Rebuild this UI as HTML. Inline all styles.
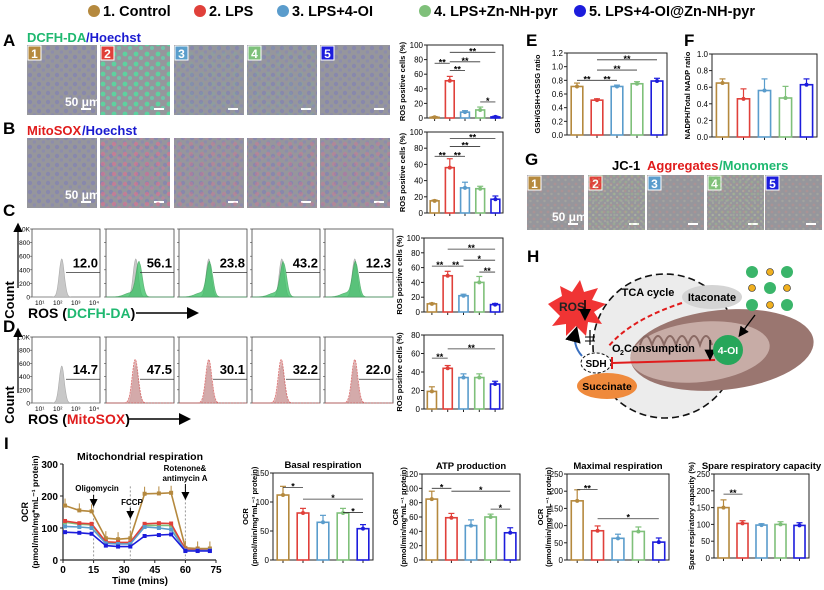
<!DOCTYPE html>
<html><head><meta charset="utf-8">
<style>
html,body{margin:0;padding:0;background:#fff;}
svg{display:block;font-family:"Liberation Sans",Arial,sans-serif;font-weight:bold;}
</style></head>
<body>
<svg id="fig" width="824" height="590" viewBox="0 0 824 590">
<defs>
<pattern id="cells" width="9" height="9" patternUnits="userSpaceOnUse">
<circle cx="3" cy="3" r="2.2" fill="#7878c0" opacity="0.45"/><circle cx="7.5" cy="7" r="1.8" fill="#8080c0" opacity="0.4"/>
</pattern>
<pattern id="green" width="11" height="10" patternUnits="userSpaceOnUse">
<circle cx="4" cy="4" r="2.4" fill="#50e0a0" opacity="0.8"/><circle cx="9" cy="8" r="2" fill="#60d8b0" opacity="0.7"/>
</pattern>
<pattern id="red" width="11" height="10" patternUnits="userSpaceOnUse">
<circle cx="4" cy="4" r="2.2" fill="#e07090" opacity="0.7"/><circle cx="9" cy="8" r="1.8" fill="#d87a9a" opacity="0.55"/>
</pattern>
<pattern id="jc" width="7" height="7" patternUnits="userSpaceOnUse">
<circle cx="2" cy="2" r="1.4" fill="#b89090" opacity="0.55"/><circle cx="5.5" cy="5" r="1.2" fill="#b0b0a0" opacity="0.5"/>
</pattern>
<pattern id="jcg" width="6" height="6" patternUnits="userSpaceOnUse">
<circle cx="2" cy="2" r="1.4" fill="#a0d080" opacity="0.6"/><circle cx="5" cy="5" r="1.1" fill="#c0e0a0" opacity="0.5"/>
</pattern>
<marker id="arr" markerWidth="8" markerHeight="8" refX="6" refY="4" orient="auto"><path d="M0,0 L8,4 L0,8 z" fill="#000"/></marker>
</defs>
<g id="root"></g>
</svg>
<script>
const NS='http://www.w3.org/2000/svg';
const root=document.getElementById('root');
function mk(tag,attrs,parent,name){
  const e=document.createElementNS(NS,tag);
  for(const k in attrs) e.setAttribute(k,attrs[k]);
  
  
  (parent||root).appendChild(e);return e;
}
function tx(str,x,y,attrs,parent,name){
  const a=Object.assign({x:x,y:y,'font-size':8},attrs||{});
  const e=mk('text',a,parent,name||'label');e.textContent=str;return e;
}
const colors=['#b5893e','#e0403a','#5a9ccc','#7fc07a','#1c1cdc'];

// ---------- Legend ----------
const legendLabels=['1. Control','2. LPS','3. LPS+4-OI','4. LPS+Zn-NH-pyr','5. LPS+4-OI@Zn-NH-pyr'];
const legendX=[94,200,283,425,580];
legendLabels.forEach((l,i)=>{
  mk('circle',{cx:legendX[i],cy:11,r:6,fill:colors[i]},root,'legend-marker');
  tx(l,legendX[i]+9,16,{'font-size':14.5},root,'legend-entry');
});

// ---------- Panel labels ----------
[['A',3,46],['B',3,134],['C',3,216],['D',3,332],['I',4,449],['E',526,46],['F',684,46],['G',525,165],['H',527,262]].forEach(p=>tx(p[0],p[1],p[2],{'font-size':17},root,'panel-label'));

// ---------- Microscopy images ----------
function micro(x,y,w,h,overlay,num,bar,scaleText,name){
  const g=mk('g',{},root,name);
  mk('rect',{x:x,y:y,width:w,height:h,fill:'#96969c'},g,'image-bg');
  mk('rect',{x:x,y:y,width:w,height:h,fill:overlay},g,'image-cells');
  if(num){
    mk('rect',{x:x+1,y:y+1,width:13,height:14,fill:colors[num-1],stroke:'#fff','stroke-width':1},g,'group-badge');
    tx(String(num),x+7.5,y+13,{'font-size':12,fill:'#fff','text-anchor':'middle'},g,'group-number');
  }
  if(bar) mk('line',{x1:x+w-16,y1:y+h-6,x2:x+w-6,y2:y+h-6,stroke:'#fff','stroke-width':2},g,'scale-bar');
  if(scaleText) tx('50 μm',x+w-32,y+h-9,{'font-size':12,fill:'#fff'},g,'scale-label');
}
const imgA=[27,100,174,247,320];
tx('DCFH-DA',27,42,{'font-size':13,fill:'#1fb870'},root,'stain-title');
tx('/Hoechst',86,42,{'font-size':13,fill:'#1a1ad0'},root,'stain-title');
imgA.forEach((x,i)=>micro(x,45,70,70,i==1?'url(#green)':'url(#cells)',i+1,true,i==0,'image-a'));
imgA.forEach((x,i)=>{if(i==2||i==3)mk('rect',{x:x,y:45,width:70,height:70,fill:'url(#green)',opacity:0.12},root,'green-overlay');});
tx('MitoSOX',27,135,{'font-size':13,fill:'#e01c1c'},root,'stain-title');
tx('/Hoechst',82,135,{'font-size':13,fill:'#1a1ad0'},root,'stain-title');
imgA.forEach((x,i)=>{micro(x,138,70,70,'url(#cells)',0,true,i==0,'image-b'); if(i>0) mk('rect',{x:x,y:138,width:70,height:70,fill:'url(#red)',opacity:i==1?0.85:0.5},root,'red-overlay');});
const imgG=[527,588,647,707,765];
tx('JC-1 ',612,170,{'font-size':13},root,'jc1-title');
tx('Aggregates',647,170,{'font-size':13,fill:'#e01c1c'},root,'jc1-title');
tx('/Monomers',719,170,{'font-size':13,fill:'#1fb870'},root,'jc1-title');
imgG.forEach((x,i)=>{micro(x,175,57,55,'url(#jc)',i+1,true,i==0,'image-g'); if(i==1||i==3) mk('rect',{x:x,y:175,width:57,height:55,fill:'url(#jcg)',opacity:0.5},root,'green-overlay');});

// ---------- Bar charts ----------
function barChart(c){
  const g=mk('g',{},root,c.name);
  const sy=v=>c.yB-(v/c.max)*(c.yB-c.yT);
  const bw=(c.x1-c.x0)/5;
  mk('rect',{x:c.x0,y:c.yT,width:c.x1-c.x0,height:c.yB-c.yT,fill:'none',stroke:'#222','stroke-width':1},g,'plot-frame');
  for(let v=0;v<=c.max+1e-9;v+=c.step){
    mk('line',{x1:c.x0-3,y1:sy(v),x2:c.x0,y2:sy(v),stroke:'#222'},g,'y-tick');
    tx(c.fmt?c.fmt(v):String(Math.round(v)),c.x0-4,sy(v)+3,{'text-anchor':'end','font-size':c.fs||8,'font-weight':'normal'},g,'y-tick-label');
  }
  c.means.forEach((m,i)=>{
    const cx=c.x0+bw*(i+0.5),w=bw*0.58;
    mk('line',{x1:cx,y1:c.yB,x2:cx,y2:c.yB+3,stroke:'#222'},g,'x-tick');
    mk('rect',{x:cx-w/2,y:sy(m),width:w,height:c.yB-sy(m),fill:'#fff',stroke:colors[i],'stroke-width':1.6},g,'bar-'+(i+1));
    mk('line',{x1:cx,y1:sy(m),x2:cx,y2:sy(m+c.sds[i]),stroke:colors[i],'stroke-width':1.2},g,'error-bar');
    mk('line',{x1:cx-3,y1:sy(m+c.sds[i]),x2:cx+3,y2:sy(m+c.sds[i]),stroke:colors[i],'stroke-width':1.2},g,'error-cap');
    mk('circle',{cx:cx,cy:sy(m),r:2,fill:colors[i]},g,'data-point');
  });
  c.sigs.forEach(s=>{
    const xa=c.x0+bw*(s[0]+0.5),xb=c.x0+bw*(s[1]+0.5);
    mk('line',{x1:xa,y1:sy(s[2]),x2:xb,y2:sy(s[2]),stroke:'#333','stroke-width':0.8},g,'significance-line');
    tx(s[3],(xa+xb)/2,sy(s[2])+2,{'text-anchor':'middle','font-size':9},g,'significance-mark');
  });
  const my=(c.yT+c.yB)/2;
  tx(c.ylabel,c.ylx||c.x0-22,my,{'text-anchor':'middle','font-size':c.lfs||7.5,transform:`rotate(-90 ${c.ylx||c.x0-22} ${my})`},g,'y-axis-title');
  if(c.ylabel2) tx(c.ylabel2,c.x0-16,my,{'text-anchor':'middle','font-size':7.5,transform:`rotate(-90 ${c.x0-16} ${my})`},g,'y-axis-title');
  if(c.title) tx(c.title,(c.x0+c.x1)/2,c.yT-5,{'text-anchor':'middle','font-size':9.5},g,'chart-title');
}
// data
const aMeans=[1,51,8,11,1.5], aSds=[1,6,2,4,1];
const aSigs=[[0,1,75,'**'],[1,2,65,'**'],[1,3,77,'**'],[1,4,90,'**'],[3,4,22,'*']];
const bMeans=[15,56,31,30,17], bSds=[1,11,7,3,4];
const bSigs=[[0,1,70,'**'],[1,2,70,'**'],[1,3,82,'**'],[1,4,92,'**']];
const cMeans=[11,49,22,40,10], cSds=[1,6,2,8,1.5];
const cSigs=[[0,1,62,'**'],[1,2,62,'**'],[1,4,85,'**'],[2,4,70,'*'],[3,4,54,'**']];
const dMeans=[19,44,34,34,27], dSds=[5,3,4,4,3];
const dSigs=[[0,1,55,'**'],[1,4,65,'**']];
const eMeans=[0.71,0.51,0.71,0.75,0.79], eSds=[0.05,0.02,0.02,0.03,0.04];
const eSigs=[[0,1,0.8,'**'],[1,2,0.8,'**'],[1,3,0.95,'**'],[1,4,1.1,'**']];
const fMeans=[0.65,0.46,0.56,0.47,0.63], fSds=[0.05,0.12,0.14,0.14,0.07];
const basalMeans=[112,81,65,81,54], basalSds=[15,8,12,8,7];
const basalSigs=[[0,1,125,'*'],[1,4,105,'*'],[3,4,82,'*']];
const atpMeans=[85,59,48,60,38], atpSds=[11,6,8,4,7];
const atpSigs=[[0,1,100,'*'],[1,4,96,'*'],[3,4,71,'*']];
const maxMeans=[172,85,63,83,52], maxSds=[32,14,12,13,12];
const maxSigs=[[0,1,205,'**'],[1,4,120,'*']];
const spareMeans=[150,103,98,100,97], spareSds=[23,8,4,8,8];
const spareSigs=[[0,1,190,'**']];

barChart({name:'chart-a',x0:427,x1:503,yT:45,yB:118,max:100,step:20,means:aMeans,sds:aSds,sigs:aSigs,ylabel:'ROS positive cells (%)'});
barChart({name:'chart-b',x0:427,x1:503,yT:132,yB:213,max:100,step:20,means:bMeans,sds:bSds,sigs:bSigs,ylabel:'ROS positive cells (%)'});
barChart({name:'chart-c',x0:424,x1:503,yT:238,yB:312,max:100,step:20,means:cMeans,sds:cSds,sigs:cSigs,ylabel:'ROS positive cells (%)'});
barChart({name:'chart-d',x0:424,x1:503,yT:335,yB:409,max:80,step:20,means:dMeans,sds:dSds,sigs:dSigs,ylabel:'ROS positive cells (%)'});
barChart({name:'chart-e',x0:567,x1:667,yT:53,yB:135,max:1.2,step:0.2,fmt:v=>v.toFixed(1),means:eMeans,sds:eSds,sigs:eSigs,ylabel:'GSH/GSH+GSSG ratio',ylx:540});
barChart({name:'chart-f',x0:712,x1:817,yT:54,yB:137,max:1.0,step:0.2,fmt:v=>v.toFixed(1),means:fMeans,sds:fSds,sigs:[],ylabel:'NADPH/Total NADP ratio',ylx:690});
barChart({name:'chart-basal',x0:273,x1:373,yT:473,yB:560,max:150,step:50,means:basalMeans,sds:basalSds,sigs:basalSigs,ylabel:'OCR',ylabel2:'(pmol/min/mg*mL⁻¹ protein)',ylx:248,title:'Basal respiration'});
barChart({name:'chart-atp',x0:422,x1:520,yT:474,yB:560,max:120,step:20,means:atpMeans,sds:atpSds,sigs:atpSigs,ylabel:'OCR',ylabel2:'(pmol/min/mg*mL⁻¹ protein)',ylx:398,title:'ATP production'});
barChart({name:'chart-maximal',x0:567,x1:669,yT:474,yB:560,max:250,step:50,means:maxMeans,sds:maxSds,sigs:maxSigs,ylabel:'OCR',ylabel2:'(pmol/min/mg*mL⁻¹ protein)',ylx:543,title:'Maximal respiration'});
barChart({name:'chart-spare',x0:714,x1:809,yT:474,yB:558,max:250,step:50,means:spareMeans,sds:spareSds,sigs:spareSigs,ylabel:'Spare respiratory capacity (%)',ylx:694,title:'Spare respiratory capacity'});

// ---------- Line chart ----------
const times=[1,8,14,21,27,33,40,47,53,60,66,72];
const ocrControl=[170,155,152,68,65,68,207,208,210,38,36,36];
const ocrLPS=[122,115,113,57,55,55,113,115,114,33,32,31];
const ocr4OI=[105,103,100,52,50,50,103,100,95,30,30,30];
const ocrZn=[118,112,110,55,52,52,108,108,108,32,31,31];
const ocrNP=[87,85,82,45,42,42,75,78,80,28,28,28];
const xTicks=[0,15,30,45,60,75], yTicks=[0,100,200,300];
(function(){
  const g=mk('g',{},root,'chart-ocr');
  const X0=63,X1=216,YB=560,YT=464;
  const sx=t=>X0+t/75*(X1-X0), sy=v=>YB-v/300*(YB-YT);
  mk('line',{x1:X0,y1:YT,x2:X0,y2:YB,stroke:'#222','stroke-width':1.2},g,'y-axis');
  mk('line',{x1:X0,y1:YB,x2:X1,y2:YB,stroke:'#222','stroke-width':1.2},g,'x-axis');
  xTicks.forEach(t=>{mk('line',{x1:sx(t),y1:YB,x2:sx(t),y2:YB+3,stroke:'#222'},g,'x-tick');tx(String(t),sx(t),YB+13,{'text-anchor':'middle','font-size':10},g,'x-tick-label');});
  yTicks.forEach(v=>{mk('line',{x1:X0-3,y1:sy(v),x2:X0,y2:sy(v),stroke:'#222'},g,'y-tick');tx(String(v),X0-5,sy(v)+4,{'text-anchor':'end','font-size':10},g,'y-tick-label');});
  [15,33,60].forEach(t=>mk('line',{x1:sx(t),y1:sy(230),x2:sx(t),y2:YB,stroke:'#999','stroke-dasharray':'2,2'},g,'injection-line'));
  const series=[ocrControl,ocrZn,ocrLPS,ocr4OI,ocrNP], cols=[colors[0],colors[3],colors[1],colors[2],colors[4]];
  series.forEach((s,k)=>{
    const d=s.map((v,i)=>(i?'L':'M')+sx(times[i]).toFixed(1)+','+sy(v).toFixed(1)).join('');
    mk('path',{d:d,fill:'none',stroke:cols[k],'stroke-width':1.6},g,'ocr-line');
    s.forEach((v,i)=>mk('rect',{x:sx(times[i])-2,y:sy(v)-2,width:4,height:4,fill:cols[k]},g,'ocr-point'));
  });
  ocrControl.forEach((v,i)=>{mk('line',{x1:sx(times[i]),y1:sy(v),x2:sx(times[i]),y2:sy(v+22),stroke:colors[0]},g,'ocr-error');});
  tx('Mitochondrial respiration',140,460,{'text-anchor':'middle','font-size':10.5},g,'chart-title');
  tx('Oligomycin',97,491,{'text-anchor':'middle','font-size':8},g,'annotation');
  mk('line',{x1:sx(15),y1:495,x2:sx(15),y2:505,stroke:'#000','marker-end':'url(#arr)'},g,'annotation-arrow');
  tx('FCCP',132,505,{'text-anchor':'middle','font-size':8},g,'annotation');
  mk('line',{x1:sx(33),y1:508,x2:sx(33),y2:517,stroke:'#000','marker-end':'url(#arr)'},g,'annotation-arrow');
  tx('Rotenone&',185,471,{'text-anchor':'middle','font-size':8},g,'annotation');
  tx('antimycin A',185,481,{'text-anchor':'middle','font-size':8},g,'annotation');
  mk('line',{x1:sx(60),y1:484,x2:sx(60),y2:498,stroke:'#000','marker-end':'url(#arr)'},g,'annotation-arrow');
  tx('Time (mins)',140,584,{'text-anchor':'middle','font-size':10},g,'x-axis-title');
  tx('OCR',28,512,{'text-anchor':'middle','font-size':9,transform:'rotate(-90 28 512)'},g,'y-axis-title');
  tx('(pmol/min/mg*mL⁻¹ protein)',38,512,{'text-anchor':'middle','font-size':8.5,transform:'rotate(-90 38 512)'},g,'y-axis-title');
})();

// ---------- Histograms ----------
const histBoxX=[32,106,179,252,325];
const cValues=['12.0','56.1','23.8','43.2','12.3'];
const cPeaks=[null,2.65,2.5,2.55,2.5];
const dValues=['14.7','47.5','30.1','32.2','22.0'];
const dPeaks=[null,2.42,2.45,2.42,2.45];
function gauss(bx,by0,by1,center,sig,h,tail){
  const lx=t=>bx+(t-0.7)/4*68, ly=c=>by1-c*(by1-by0);
  let d='M'+lx(0.7)+','+by1;
  for(let t=0.7;t<=4.7;t+=0.03){let c=h*Math.exp(-Math.pow(t-center,2)/(2*sig*sig));if(tail&&t<center)c+=tail*Math.exp(-Math.pow(t-center+0.5,2)/0.25);d+='L'+lx(t).toFixed(1)+','+ly(Math.min(c,1)).toFixed(1);}
  return d+'L'+lx(4.7)+','+by1+'Z';
}
function hist(row,by0,by1,vals,peaks,fill,stroke,dash){
  histBoxX.forEach((bx,i)=>{
    const g=mk('g',{},root,'histogram-'+row);
    mk('rect',{x:bx,y:by0,width:68,height:by1-by0,fill:'#fff',stroke:'#444','stroke-width':0.8},g,'histogram-frame');
    mk('path',{d:gauss(bx,by0,by1,2.45,0.15,0.56,0),fill:'#c8c8c8',stroke:'#aaa','stroke-width':0.6},g,'control-peak');
    if(peaks[i]) mk('path',{d:gauss(bx,by0,by1,peaks[i],0.18,row=='c'?0.5:0.66,row=='c'?0.06:0),fill:fill,stroke:stroke,'stroke-width':0.8,'stroke-dasharray':dash,opacity:0.75},g,'sample-peak');
    const gy=by0+(by1-by0)*0.64, gx=bx+(2.7-0.7)/4*68;
    mk('line',{x1:gx,y1:gy,x2:bx+68,y2:gy,stroke:'#333','stroke-width':0.7},g,'gate-line');
    tx(vals[i],bx+66,gy-5,{'text-anchor':'end','font-size':13},g,'gate-value');
    for(let k=0;k<=5;k++) mk('line',{x1:bx-2,y1:by1-k*(by1-by0)/5,x2:bx,y2:by1-k*(by1-by0)/5,stroke:'#444','stroke-width':0.6},g,'y-tick');
    if(i==0){
      ['0','200','400','600','800','1.0K'].forEach((l,k)=>tx(l,bx-2,by1-k*(by1-by0)/5+2.5,{'text-anchor':'end','font-size':6.5,'font-weight':'normal'},g,'y-tick-label'));
      ['10¹','10²','10³','10⁴'].forEach((l,k)=>tx(l,bx+3+k*18,by1+8,{'font-size':6.5,'font-weight':'normal'},g,'x-tick-label'));
    }
  });
}
hist('c',229,297,cValues,cPeaks,'#34c060','#2fa050','');
hist('d',337,403,dValues,dPeaks,'#d8a0a0','#d04040','2,1');
[[300,'DCFH-DA','#1fb870',318],[410,'MitoSOX','#e01c1c',424]].forEach((r,k)=>{
  const cy=k==0?270:375;
  mk('line',{x1:18,y1:cy+18,x2:18,y2:cy-45,stroke:'#000','stroke-width':1.2,'marker-end':'url(#arr)'},root,'count-arrow');
  tx('Count',14,cy+30,{'text-anchor':'middle','font-size':13,transform:`rotate(-90 14 ${cy+30})`},root,'count-label');
  const t=mk('text',{x:28,y:r[3],'font-size':14},root,'x-axis-title');
  t.innerHTML='ROS (<tspan fill="'+r[2]+'">'+r[1]+'</tspan>)';
  mk('line',{x1:k==0?136:128,y1:r[3]-5,x2:k==0?196:188,y2:r[3]-5,stroke:'#000','stroke-width':1.5,'marker-end':'url(#arr)'},root,'axis-arrow');
});

// ---------- Schematic H ----------
(function(){
  const g=mk('g',{},root,'schematic-h');
  mk('circle',{cx:665,cy:346,r:72,fill:'#ececec',stroke:'#111','stroke-width':1.6,'stroke-dasharray':'7,4'},g,'tca-circle');
  mk('ellipse',{cx:722,cy:350,rx:92,ry:40,fill:'#9a7670',transform:'rotate(-6 722 350)'},g,'mitochondrion');
  mk('ellipse',{cx:700,cy:352,rx:70,ry:30,fill:'#c7aca6',transform:'rotate(-6 700 352)'},g,'mitochondrion-inner');
  mk('path',{d:'M640,345 q6,-18 12,0 q6,-18 12,0 q6,-18 12,0 q6,-18 12,0 q6,-18 12,0 q6,-18 12,0',fill:'none',stroke:'#8a6a64','stroke-width':2},g,'cristae');
  mk('path',{d:'M548,304 l14,-8 l-2,-10 l12,6 l8,-12 l4,12 l14,-4 l-6,12 l14,4 l-12,8 l8,12 l-14,-2 l-2,14 l-10,-10 l-10,10 l0,-12 l-14,2 l8,-10z',fill:'#f03434'},g,'ros-burst');
  tx('ROS',572,311,{'text-anchor':'middle','font-size':12,fill:'#222'},g,'ros-label');
  mk('line',{x1:585,y1:300,x2:585,y2:318,stroke:'#000','stroke-width':1.5,'marker-end':'url(#arr)'},g,'ros-down-arrow');
  mk('ellipse',{cx:712,cy:297,rx:30,ry:12,fill:'#d4d4d4'},g,'itaconate-ellipse');
  tx('Itaconate',712,301,{'text-anchor':'middle','font-size':11},g,'itaconate-label');
  tx('TCA cycle',648,296,{'text-anchor':'middle','font-size':11},g,'tca-label');
  mk('path',{d:'M682,303 Q630,320 608,347',fill:'none',stroke:'#e01c1c','stroke-width':2,'stroke-dasharray':'5,3'},g,'inhibition-dashed');
  mk('ellipse',{cx:596,cy:363,rx:15,ry:10,fill:'#fff',stroke:'#111','stroke-dasharray':'3,2'},g,'sdh-ellipse');
  tx('SDH',596,367,{'text-anchor':'middle','font-size':10},g,'sdh-label');
  mk('ellipse',{cx:607,cy:386,rx:30,ry:13,fill:'#ef8a3c'},g,'succinate-ellipse');
  tx('Succinate',607,390,{'text-anchor':'middle','font-size':10.5},g,'succinate-label');
  mk('line',{x1:612,y1:363,x2:715,y2:360,stroke:'#e01c1c','stroke-width':2},g,'inhibition-line');
  mk('line',{x1:612,y1:357,x2:612,y2:369,stroke:'#e01c1c','stroke-width':2},g,'inhibition-bar');
  tx('O',612,352,{'font-size':11},g,'o2-label');tx('2',620,355,{'font-size':7},g,'o2-sub');
  tx('Consumption',624,352,{'font-size':11},g,'consumption-label');
  mk('line',{x1:710,y1:340,x2:710,y2:358,stroke:'#000','stroke-width':1.4,'marker-end':'url(#arr)'},g,'o2-down-arrow');
  mk('circle',{cx:728,cy:350,r:15,fill:'#27a65a'},g,'four-oi-circle');
  tx('4-OI',728,354,{'text-anchor':'middle','font-size':10.5,fill:'#fff'},g,'four-oi-label');
  mk('line',{x1:755,y1:315,x2:740,y2:335,stroke:'#000','stroke-width':1.3,'marker-end':'url(#arr)'},g,'np-arrow');
  mk('line',{x1:590,y1:345,x2:590,y2:330,stroke:'#000','stroke-width':1.2},g,'block-line');
  mk('line',{x1:585,y1:337,x2:595,y2:337,stroke:'#000'},g,'block-mark');mk('line',{x1:585,y1:341,x2:595,y2:341,stroke:'#000'},g,'block-mark');
  mk('path',{d:'M582,356 Q572,345 576,330',fill:'none',stroke:'#3a70c0','stroke-width':2,'marker-end':'url(#arr)'},g,'blue-arrow');
  [[752,272],[787,272],[752,305],[787,305],[770,288]].forEach(p=>{mk('circle',{cx:p[0],cy:p[1],r:6,fill:'#3ab56a'},g,'np-cluster');});
  [[770,272],[752,288],[787,288],[770,305]].forEach(p=>{mk('circle',{cx:p[0],cy:p[1],r:3.5,fill:'#f0b020',stroke:'#222','stroke-width':0.6},g,'np-node');});
})();
</script>
</body></html>
